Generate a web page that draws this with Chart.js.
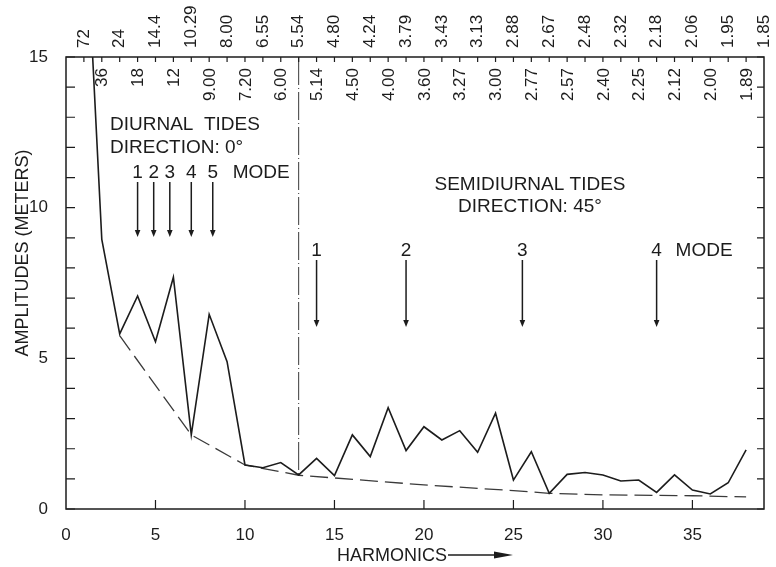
<!DOCTYPE html>
<html>
<head>
<meta charset="utf-8">
<script src="https://cdn.jsdelivr.net/npm/chart.js@4/dist/chart.umd.min.js"></script>
<style>
  html, body { margin: 0; padding: 0; background: #fff; }
  canvas { display: block; }
</style>
</head>
<body>
<canvas id="chart" width="776" height="567"></canvas>
<script>
// Harmonic number and spectral amplitude (metres)
const harmonics = [1, 2, 3, 4, 5, 6, 7, 8, 9, 10, 11, 12, 13, 14, 15, 16, 17, 18, 19,
  20, 21, 22, 23, 24, 25, 26, 27, 28, 29, 30, 31, 32, 33, 34, 35, 36, 37, 38];
const amplitudes = [20.8, 8.95, 5.81, 7.07, 5.55, 7.69, 2.46, 6.46, 4.89, 1.46, 1.37, 1.54,
  1.13, 1.68, 1.11, 2.46, 1.74, 3.36, 1.94, 2.73, 2.29, 2.60, 1.88, 3.18, 0.96, 1.90,
  0.52, 1.15, 1.21, 1.13, 0.93, 0.96, 0.55, 1.13, 0.63, 0.50, 0.87, 1.96];

// Lower envelope (dashed)
const envelopeHarmonics = [3, 7, 10, 13, 15, 20, 25, 27, 30, 35, 38];
const envelopeAmplitudes = [5.75, 2.46, 1.46, 1.12, 1.03, 0.80, 0.61, 0.52, 0.47, 0.44, 0.40];

// Boundary between diurnal and semidiurnal bands
const boundaryHarmonic = 13;

// Mode positions (harmonic number)
const diurnalModes = [4, 4.9, 5.8, 7, 8.2];
const diurnalModeLabels = ['1', '2', '3', '4', '5'];
const semidiurnalModes = [14, 19, 25.5, 33];
const semidiurnalModeLabels = ['1', '2', '3', '4'];

// Period (hours) for each harmonic along the top edge
const periodLabelsOdd = ['72', '24', '14.4', '10.29', '8.00', '6.55', '5.54', '4.80', '4.24', '3.79',
  '3.43', '3.13', '2.88', '2.67', '2.48', '2.32', '2.18', '2.06', '1.95', '1.85'];   // harmonics 1, 3, ... 39
const periodLabelsEven = ['36', '18', '12', '9.00', '7.20', '6.00', '5.14', '4.50', '4.00', '3.60',
  '3.27', '3.00', '2.77', '2.57', '2.40', '2.25', '2.12', '2.00', '1.89'];           // harmonics 2, 4, ... 38

const xTickLabels = ['0', '5', '10', '15', '20', '25', '30', '35'];
const yTickLabels = ['0', '5', '10', '15'];

const INK = '#1c1c1c';
const FONT = '"Liberation Sans", Arial, sans-serif';

function arrowDown(ctx, px, y1, y2) {
  ctx.beginPath();
  ctx.moveTo(px, y1);
  ctx.lineTo(px, y2 - 5);
  ctx.stroke();
  ctx.beginPath();
  ctx.moveTo(px - 2.8, y2 - 7);
  ctx.lineTo(px + 2.8, y2 - 7);
  ctx.lineTo(px, y2);
  ctx.closePath();
  ctx.fill();
}

const decorations = {
  id: 'decorations',
  beforeDraw(chart) {
    const ctx = chart.ctx;
    ctx.save();
    ctx.fillStyle = '#fff';
    ctx.fillRect(0, 0, chart.width, chart.height);
    ctx.restore();
  },
  afterDatasetsDraw(chart) {
    const { ctx, chartArea: a, scales: { x, y } } = chart;
    ctx.save();
    ctx.strokeStyle = INK;
    ctx.fillStyle = INK;

    // frame
    ctx.lineWidth = 1.5;
    ctx.strokeRect(a.left, a.top, a.right - a.left, a.bottom - a.top);

    // inward tick marks
    ctx.lineWidth = 1.2;
    ctx.beginPath();
    for (let v = 0; v <= 15; v++) {
      const py = y.getPixelForValue(v);
      ctx.moveTo(a.left, py); ctx.lineTo(a.left + 9, py);
      ctx.moveTo(a.right, py); ctx.lineTo(a.right - 7, py);
    }
    for (let i = 1; i < xTickLabels.length; i++) {
      const px = x.getPixelForValue(Number(xTickLabels[i]));
      ctx.moveTo(px, a.bottom); ctx.lineTo(px, a.bottom - 9);
    }
    for (let h = 1; h < 39; h++) {
      const px = x.getPixelForValue(h);
      ctx.moveTo(px, a.top); ctx.lineTo(px, a.top + 5);
    }
    ctx.stroke();

    // period labels, rotated
    ctx.font = '17px ' + FONT;
    ctx.textBaseline = 'middle';
    periodLabelsOdd.forEach((t, i) => {
      const px = x.getPixelForValue(2 * i + 1);
      ctx.save();
      ctx.translate(px, a.top - 9);
      ctx.rotate(-Math.PI / 2);
      ctx.textAlign = 'left';
      ctx.fillText(t, 0, 0);
      ctx.restore();
    });
    periodLabelsEven.forEach((t, i) => {
      const px = x.getPixelForValue(2 * i + 2);
      ctx.save();
      ctx.translate(px + 1, a.top + 11);
      ctx.rotate(-Math.PI / 2);
      ctx.textAlign = 'right';
      ctx.fillText(t, 0, 0);
      ctx.restore();
    });

    // diurnal annotation
    ctx.font = '19px ' + FONT;
    ctx.textBaseline = 'alphabetic';
    ctx.textAlign = 'left';
    ctx.fillText('DIURNAL  TIDES', 110, 130);
    ctx.fillText('DIRECTION: 0°', 110, 153);
    ctx.textAlign = 'center';
    ctx.lineWidth = 1.5;
    diurnalModes.forEach((m, i) => {
      const px = x.getPixelForValue(m);
      ctx.fillText(diurnalModeLabels[i], px, 178);
      arrowDown(ctx, px, 182, 237);
    });
    ctx.textAlign = 'left';
    ctx.fillText('MODE', x.getPixelForValue(diurnalModes[diurnalModes.length - 1]) + 20, 178);

    // semidiurnal annotation
    ctx.textAlign = 'center';
    ctx.fillText('SEMIDIURNAL TIDES', 530, 190);
    ctx.fillText('DIRECTION: 45°', 530, 212);
    semidiurnalModes.forEach((m, i) => {
      const px = x.getPixelForValue(m);
      ctx.fillText(semidiurnalModeLabels[i], px, 256);
      arrowDown(ctx, px, 260, 327);
    });
    ctx.textAlign = 'left';
    ctx.fillText('MODE', x.getPixelForValue(semidiurnalModes[semidiurnalModes.length - 1]) + 19, 256);

    // axis titles
    ctx.font = '18px ' + FONT;
    ctx.save();
    ctx.translate(23, 253);
    ctx.rotate(-Math.PI / 2);
    ctx.textAlign = 'center';
    ctx.textBaseline = 'middle';
    ctx.fillText('AMPLITUDES (METERS)', 0, 0);
    ctx.restore();

    ctx.textAlign = 'left';
    ctx.textBaseline = 'alphabetic';
    ctx.fillText('HARMONICS', 337, 561);
    const tw = ctx.measureText('HARMONICS').width;
    const ax0 = 337 + tw + 1, ay = 555;
    ctx.lineWidth = 1.6;
    ctx.beginPath();
    ctx.moveTo(ax0, ay); ctx.lineTo(500, ay);
    ctx.stroke();
    ctx.beginPath();
    ctx.moveTo(494, ay - 3.5);
    ctx.lineTo(513, ay);
    ctx.lineTo(494, ay + 3.5);
    ctx.closePath();
    ctx.fill();

    ctx.restore();
  }
};

const spectrum = harmonics.map((h, i) => ({ x: h, y: amplitudes[i] }));
const envelope = envelopeHarmonics.map((h, i) => ({ x: h, y: envelopeAmplitudes[i] }));
const boundary = [
  { x: boundaryHarmonic, y: 15 },
  { x: boundaryHarmonic, y: amplitudes[harmonics.indexOf(boundaryHarmonic)] }
];

new Chart(document.getElementById('chart'), {
  type: 'line',
  data: {
    datasets: [
      { data: spectrum, borderColor: INK, borderWidth: 1.6, pointRadius: 0, tension: 0 },
      { data: envelope, borderColor: '#3a3a3a', borderWidth: 1.3, borderDash: [18, 7], pointRadius: 0, tension: 0 },
      { data: boundary, borderColor: '#3a3a3a', borderWidth: 1, borderDash: [28, 3, 1, 3], pointRadius: 0 }
    ]
  },
  options: {
    responsive: false,
    animation: false,
    layout: { padding: { left: 0, right: 12, top: 0, bottom: 0 } },
    plugins: { legend: { display: false }, tooltip: { enabled: false } },
    scales: {
      x: {
        type: 'linear', position: 'bottom', min: 0, max: 39,
        grid: { display: false }, border: { display: false },
        ticks: {
          stepSize: 5, includeBounds: false, autoSkip: false, maxRotation: 0,
          padding: 8, color: INK, font: { family: FONT, size: 17 },
          callback: (v) => xTickLabels[v / 5]
        },
        afterFit: (s) => { s.height = 58; }
      },
      xTop: {
        type: 'linear', position: 'top', min: 0, max: 39,
        grid: { display: false }, border: { display: false },
        ticks: { display: false },
        afterFit: (s) => { s.height = 57; }
      },
      y: {
        type: 'linear', min: 0, max: 15,
        grid: { display: false }, border: { display: false },
        ticks: {
          stepSize: 5, padding: 10, color: INK, font: { family: FONT, size: 17 },
          callback: (v) => yTickLabels[v / 5]
        },
        afterFit: (s) => { s.width = 66; }
      }
    }
  },
  plugins: [decorations]
});
</script>
</body>
</html>
